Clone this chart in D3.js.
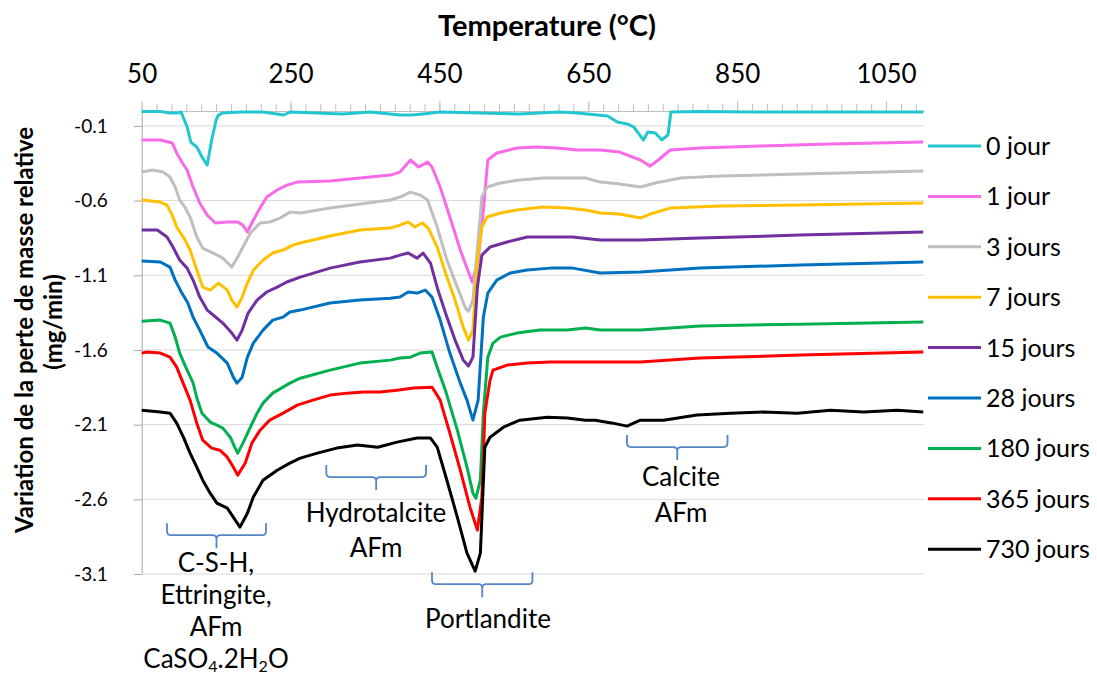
<!DOCTYPE html>
<html>
<head>
<meta charset="utf-8">
<script src="https://cdn.jsdelivr.net/npm/d3@7"></script>
<style>
  body { margin: 0; background: #fff; }
  svg text { font-family: Lato, "Open Sans", sans-serif; fill: #000; }
</style>
</head>
<body>
<div id="chart"></div>
<script>
// series labels and colours (legend order)
const seriesNames = ["0 jour", "1 jour", "3 jours", "7 jours", "15 jours", "28 jours", "180 jours", "365 jours", "730 jours"];
const seriesColors = ["#22c6d0", "#f96ae9", "#bfbfbf", "#ffc000", "#7030a0", "#0070c0", "#00b050", "#ff0000", "#000000"];

const xTicks = [50, 250, 450, 650, 850, 1050];
const yTicks = [-0.1, -0.6, -1.1, -1.6, -2.1, -2.6, -3.1];

// [temperature (°C), variation (mg/min)]
const jour0 = [[50,-0.003],[75,-0.003],[88,-0.013],[97,-0.013],[103,-0.007],[111,-0.107],[116,-0.208],[124,-0.241],[131,-0.308],[138,-0.362],[144,-0.194],[150,-0.06],[153,-0.027],[159,-0.013],[182,-0.007],[213,-0.007],[241,-0.027],[249,-0.007],[320,-0.02],[357,-0.007],[397,-0.027],[413,-0.027],[428,-0.02],[451,-0.007],[505,-0.013],[558,-0.02],[612,-0.007],[635,-0.013],[676,-0.033],[689,-0.074],[702,-0.087],[711,-0.107],[717,-0.147],[724,-0.194],[730,-0.14],[740,-0.147],[749,-0.194],[757,-0.16],[761,-0.007],[800,-0.003],[867,-0.007],[935,-0.007],[1002,-0.007],[1100,-0.007]];

const jour1 = [[50,-0.194],[75,-0.194],[91,-0.214],[97,-0.281],[104,-0.342],[111,-0.395],[119,-0.509],[128,-0.616],[138,-0.697],[149,-0.75],[165,-0.743],[179,-0.743],[186,-0.764],[192,-0.81],[200,-0.73],[209,-0.65],[218,-0.576],[232,-0.529],[245,-0.496],[259,-0.476],[303,-0.469],[343,-0.449],[384,-0.429],[397,-0.409],[411,-0.328],[422,-0.375],[434,-0.342],[440,-0.375],[451,-0.509],[464,-0.71],[478,-0.931],[494,-1.145],[502,-0.998],[509,-0.663],[515,-0.328],[527,-0.281],[554,-0.248],[581,-0.241],[608,-0.248],[636,-0.261],[666,-0.261],[692,-0.275],[720,-0.328],[733,-0.369],[744,-0.328],[760,-0.261],[800,-0.248],[881,-0.234],[975,-0.221],[1100,-0.208]];

const jours3 = [[50,-0.409],[65,-0.395],[79,-0.409],[88,-0.442],[95,-0.509],[101,-0.596],[108,-0.643],[115,-0.71],[124,-0.844],[132,-0.918],[146,-0.951],[159,-0.985],[171,-1.045],[179,-0.978],[186,-0.911],[196,-0.817],[209,-0.75],[222,-0.743],[236,-0.717],[249,-0.677],[263,-0.683],[303,-0.65],[343,-0.623],[384,-0.596],[397,-0.576],[411,-0.543],[424,-0.563],[434,-0.596],[447,-0.777],[460,-0.998],[474,-1.179],[485,-1.32],[489,-1.34],[495,-1.266],[502,-0.864],[507,-0.576],[514,-0.509],[532,-0.482],[558,-0.462],[589,-0.449],[622,-0.449],[646,-0.449],[666,-0.476],[692,-0.489],[720,-0.509],[740,-0.482],[774,-0.449],[828,-0.435],[935,-0.422],[1100,-0.402]];

const jours7 = [[50,-0.596],[75,-0.61],[84,-0.63],[91,-0.697],[97,-0.777],[106,-0.844],[115,-0.931],[124,-1.065],[132,-1.179],[142,-1.199],[153,-1.152],[165,-1.199],[171,-1.266],[178,-1.313],[185,-1.246],[192,-1.152],[200,-1.065],[213,-0.998],[226,-0.951],[240,-0.931],[253,-0.898],[263,-0.884],[303,-0.837],[343,-0.797],[384,-0.784],[397,-0.764],[408,-0.743],[417,-0.777],[427,-0.75],[435,-0.784],[447,-0.911],[460,-1.112],[471,-1.266],[482,-1.447],[489,-1.534],[495,-1.467],[501,-0.998],[507,-0.777],[514,-0.71],[532,-0.683],[554,-0.663],[589,-0.643],[622,-0.65],[646,-0.663],[666,-0.683],[692,-0.69],[720,-0.717],[733,-0.69],[760,-0.65],[828,-0.636],[935,-0.63],[1100,-0.616]];

const jours15 = [[50,-0.797],[71,-0.797],[84,-0.844],[92,-0.911],[101,-0.998],[111,-1.052],[119,-1.132],[128,-1.246],[138,-1.333],[146,-1.366],[159,-1.42],[171,-1.487],[178,-1.534],[185,-1.467],[193,-1.353],[205,-1.266],[218,-1.212],[232,-1.179],[245,-1.145],[263,-1.112],[303,-1.052],[343,-1.011],[384,-0.985],[397,-0.965],[408,-0.951],[420,-0.985],[428,-0.951],[438,-1.018],[448,-1.199],[460,-1.38],[471,-1.534],[482,-1.668],[489,-1.708],[495,-1.648],[501,-1.179],[507,-0.965],[518,-0.911],[541,-0.877],[568,-0.844],[599,-0.844],[629,-0.844],[666,-0.864],[720,-0.864],[800,-0.851],[935,-0.831],[1100,-0.81]];

const jours28 = [[50,-1.005],[75,-1.011],[88,-1.045],[95,-1.132],[104,-1.219],[112,-1.286],[119,-1.38],[128,-1.467],[139,-1.58],[151,-1.621],[165,-1.688],[173,-1.782],[178,-1.822],[185,-1.782],[192,-1.648],[200,-1.554],[213,-1.467],[226,-1.4],[240,-1.38],[249,-1.346],[263,-1.333],[303,-1.286],[343,-1.266],[384,-1.253],[397,-1.246],[408,-1.212],[420,-1.219],[431,-1.199],[440,-1.246],[451,-1.4],[464,-1.621],[478,-1.822],[487,-1.936],[495,-2.07],[502,-1.936],[509,-1.38],[515,-1.219],[527,-1.132],[545,-1.085],[568,-1.065],[599,-1.052],[629,-1.052],[666,-1.085],[720,-1.078],[800,-1.052],[935,-1.031],[1100,-1.011]];

const jours180 = [[50,-1.407],[75,-1.4],[88,-1.42],[95,-1.514],[101,-1.621],[111,-1.735],[119,-1.82],[124,-1.92],[131,-2.023],[142,-2.083],[151,-2.103],[159,-2.123],[169,-2.184],[175,-2.251],[179,-2.291],[186,-2.224],[196,-2.117],[205,-2.023],[213,-1.956],[226,-1.889],[249,-1.822],[263,-1.789],[303,-1.735],[343,-1.688],[384,-1.668],[397,-1.654],[411,-1.648],[424,-1.621],[440,-1.614],[447,-1.715],[458,-1.869],[474,-2.137],[487,-2.384],[495,-2.559],[499,-2.592],[505,-2.472],[509,-2.023],[515,-1.648],[522,-1.554],[532,-1.514],[554,-1.487],[585,-1.467],[622,-1.467],[646,-1.453],[666,-1.467],[720,-1.467],[800,-1.44],[935,-1.427],[1100,-1.413]];

const jours365 = [[50,-1.621],[57,-1.614],[75,-1.621],[88,-1.648],[97,-1.715],[104,-1.802],[115,-1.936],[124,-2.09],[132,-2.204],[144,-2.257],[155,-2.271],[165,-2.318],[173,-2.384],[179,-2.438],[189,-2.358],[198,-2.224],[209,-2.137],[222,-2.07],[240,-2.023],[259,-1.969],[280,-1.936],[303,-1.902],[326,-1.889],[348,-1.882],[370,-1.882],[393,-1.869],[415,-1.855],[440,-1.849],[451,-1.936],[464,-2.157],[478,-2.405],[491,-2.652],[501,-2.806],[507,-2.585],[511,-2.023],[518,-1.802],[522,-1.735],[541,-1.701],[568,-1.688],[599,-1.681],[629,-1.681],[666,-1.681],[720,-1.681],[800,-1.654],[935,-1.634],[1100,-1.614]];

const jours730 = [[50,-2.003],[75,-2.016],[88,-2.023],[97,-2.09],[106,-2.184],[115,-2.291],[124,-2.384],[132,-2.472],[142,-2.559],[151,-2.626],[165,-2.659],[173,-2.719],[182,-2.786],[192,-2.693],[200,-2.585],[213,-2.472],[232,-2.405],[249,-2.358],[263,-2.324],[286,-2.291],[312,-2.257],[340,-2.237],[367,-2.251],[393,-2.217],[420,-2.19],[438,-2.19],[447,-2.251],[460,-2.472],[474,-2.719],[487,-2.96],[498,-3.081],[505,-2.96],[511,-2.251],[518,-2.184],[536,-2.117],[558,-2.07],[595,-2.05],[622,-2.056],[646,-2.07],[659,-2.07],[683,-2.09],[702,-2.11],[720,-2.07],[751,-2.07],[796,-2.036],[841,-2.023],[885,-2.016],[931,-2.023],[975,-2.003],[1020,-2.016],[1065,-2.003],[1100,-2.016]];

const seriesData = [jour0, jour1, jours3, jours7, jours15, jours28, jours180, jours365, jours730];

// brace annotations: [T start, T end, value at top of brace]
const braceSpans = [[84, 217, -2.76], [298, 432, -2.371], [440, 575, -3.088], [702, 837, -2.17]];
const braceLabels = [["C-S-H,", "Ettringite,", "AFm", "CaSO4.2H2O"], ["Hydrotalcite", "AFm"], ["Portlandite"], ["Calcite", "AFm"]];

const W = 1097, H = 678;
const svg = d3.select("#chart").append("svg")
  .attr("width", W).attr("height", H);

const x = d3.scaleLinear().domain([50, 1101]).range([141.7, 924]);
const y = d3.scaleLinear().domain([-3.1, 0]).range([574, 111]);

// gridlines
svg.append("g").selectAll("line")
  .data(yTicks)
  .join("line")
  .attr("x1", x.range()[0]).attr("x2", x.range()[1])
  .attr("y1", d => y(d)).attr("y2", d => y(d))
  .attr("stroke", "#d9d9d9").attr("stroke-width", 1);

// left axis
const yAxis = svg.append("g")
  .attr("transform", `translate(${x.range()[0]},0)`)
  .call(d3.axisLeft(y).tickValues(yTicks).tickFormat(d => d.toFixed(1))
    .tickSize(8).tickSizeOuter(0).tickPadding(26));
yAxis.select(".domain").attr("stroke", "#a6a6a6");
yAxis.selectAll(".tick line").attr("stroke", "#a6a6a6");
yAxis.selectAll("text").style("font-size", "19px");

// top axis: minor ticks every 20 °C then major ones with labels
const xMinor = svg.append("g")
  .attr("transform", `translate(0,${y(0)})`)
  .call(d3.axisTop(x).tickValues(d3.range(50, 1101, 20)).tickFormat("")
    .tickSize(7).tickSizeOuter(0));
xMinor.select(".domain").attr("stroke", "#bfbfbf");
xMinor.selectAll(".tick line").attr("stroke", "#bfbfbf");

const xAxis = svg.append("g")
  .attr("transform", `translate(0,${y(0)})`)
  .call(d3.axisTop(x).tickValues(xTicks).tickFormat(d => String(d))
    .tickSize(10).tickSizeOuter(0).tickPadding(18));
xAxis.select(".domain").remove();
xAxis.selectAll(".tick line").attr("stroke", "#bfbfbf");
xAxis.selectAll("text").style("font-size", "26px");

// lines
const line = d3.line().x(d => x(d[0])).y(d => y(d[1]));
svg.append("g").selectAll("path")
  .data(seriesData)
  .join("path")
  .attr("d", line)
  .attr("fill", "none")
  .attr("stroke", (d, i) => seriesColors[i])
  .attr("stroke-width", 3)
  .attr("stroke-linejoin", "round");

// braces
const braceColor = "#5585c3";
const bg = svg.append("g");
braceSpans.forEach((b, i) => {
  const x1 = x(b[0]), x2 = x(b[1]), xc = (x1 + x2) / 2;
  const yt = y(b[2]), ym = yt + 12, yb = ym + 13;
  bg.append("path")
    .attr("d", `M${x1},${yt} L${x1},${ym - 4} Q${x1},${ym} ${x1 + 4},${ym} L${xc - 4},${ym} Q${xc},${ym} ${xc},${ym + 4} L${xc},${yb} M${xc},${ym + 4} Q${xc},${ym} ${xc + 4},${ym} L${x2 - 4},${ym} Q${x2},${ym} ${x2},${ym - 4} L${x2},${yt}`)
    .attr("fill", "none").attr("stroke", braceColor).attr("stroke-width", 1.8);
});

const labelPos = [[216, 572], [376, 522], [488, 628], [681, 486]];
const labelGap = [32, 35, 35, 36];
braceLabels.forEach((lines, i) => {
  const t = svg.append("text")
    .attr("text-anchor", "middle")
    .style("font-size", "26px");
  lines.forEach((s, j) => {
    const ts = t.append("tspan").attr("x", labelPos[i][0]).attr("y", labelPos[i][1] + j * labelGap[i]);
    if (s === "CaSO4.2H2O") {
      ts.text("CaSO");
      ts.append("tspan").attr("font-size", "16px").attr("dy", 4).text("4");
      ts.append("tspan").attr("dy", -4).text(".2H");
      ts.append("tspan").attr("font-size", "16px").attr("dy", 4).text("2");
      ts.append("tspan").attr("dy", -4).text("O");
    } else {
      ts.text(s);
    }
  });
});

// titles
svg.append("text")
  .attr("x", 547).attr("y", 36)
  .attr("text-anchor", "middle")
  .style("font-size", "29px").style("font-weight", "bold")
  .text("Temperature (°C)");

svg.append("text")
  .attr("transform", "translate(33,330) rotate(-90)")
  .attr("text-anchor", "middle")
  .style("font-size", "24px").style("font-weight", "bold")
  .text("Variation de la perte de masse relative");
svg.append("text")
  .attr("transform", "translate(62,322) rotate(-90)")
  .attr("text-anchor", "middle")
  .style("font-size", "24px").style("font-weight", "bold")
  .text("(mg/min)");

// legend
const legend = svg.append("g").selectAll("g")
  .data(seriesNames)
  .join("g")
  .attr("transform", (d, i) => `translate(928,${146 + i * 50.4})`);
legend.append("line")
  .attr("x1", 0).attr("x2", 53)
  .attr("stroke", (d, i) => seriesColors[i]).attr("stroke-width", 3);
legend.append("text")
  .attr("x", 58).attr("y", 9)
  .style("font-size", "25px")
  .text(d => d);
</script>
</body>
</html>
